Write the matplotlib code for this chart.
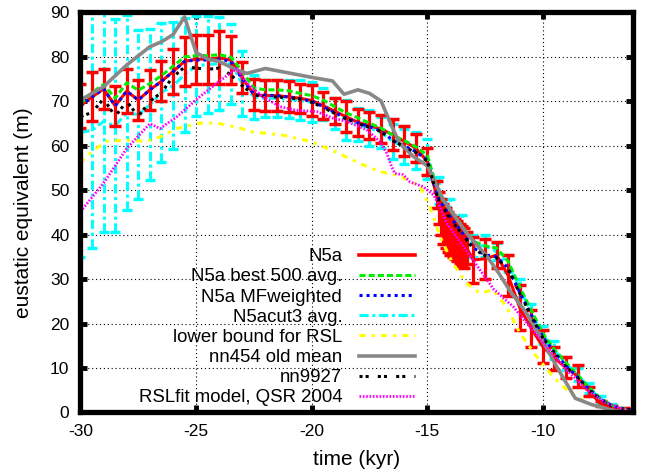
import matplotlib
matplotlib.use('Agg')
import matplotlib.pyplot as plt
from matplotlib.lines import Line2D

plt.rcParams['font.family'] = ['Liberation Sans', 'DejaVu Sans']
plt.rcParams['axes.unicode_minus'] = False

# ---------------- data ----------------
t_grid = [-30, -29.5, -29, -28.5, -28, -27.5, -27, -26.5, -26, -25.5, -25, -24.5, -24,
          -23.5, -23, -22.5, -22, -21.5, -21, -20.5, -20, -19.5, -19, -18.5, -18, -17.5,
          -17, -16.5, -16, -15.5, -15, -14.5, -14, -13.5, -13, -12.5, -12, -11.5, -11,
          -10.5, -10, -9.5, -9, -8.5, -8, -7.5, -7, -6.5, -6]

# N5a (red, with error bars)
t_n5a = [-30, -29.5, -29, -28.5, -28, -27.5, -27, -26.5, -26, -25.5, -25, -24.5, -24,
         -23.5, -23, -22.5, -22, -21.5, -21, -20.5, -20, -19.5, -19, -18.5, -18, -17.5,
         -17, -16.5, -16, -15.5, -15,
         -14.6, -14.5, -14.4, -14.3, -14.2, -14.1, -14.0, -13.9, -13.8, -13.7, -13.6,
         -13.5, -13.4, -13.3,
         -13, -12.5, -12, -11.5, -11, -10.5, -10, -9.5, -9, -8.5, -8, -7.5, -7, -6.5, -6]
n5a = [69, 71, 72.8, 69, 72.3, 70.3, 72.6, 74.5, 76.7, 79, 79.5, 79.5, 79.8,
       79.3, 75.3, 71.5, 71.3, 71.3, 71, 70.7, 70.2, 69, 67.8, 66.5, 65.3, 64.5,
       63.8, 62.5, 61, 59.5, 56.5,
       49, 46, 44, 42.5, 41.5, 40.5, 40, 39.5, 39, 38.5, 38,
       37.5, 37, 37,
       34.3, 34.6, 35.4, 30.8, 23.6, 18.9, 14.8, 12.2, 10.1, 8.2, 4.7, 2, 1, 0.6, 0.5]
n5a_err = [5, 5.5, 4.5, 4.5, 5, 4.5, 4.5, 4.5, 5, 5.5, 5.5, 5.5, 6,
           5.5, 3.5, 3.5, 3.5, 3.5, 3.5, 3.3, 3.4, 3, 3, 3.5, 3, 3,
           3.2, 3.5, 3.4, 3.2, 3,
           3, 3.5, 4, 4.5, 4.5, 4.5, 4.5, 4.5, 4.5, 4.5, 4.5,
           4.5, 4.5, 3.5,
           5.2, 4.5, 3, 4.6, 5, 4.2, 3.7, 2.6, 2.4, 2.4, 1.1, 0.6, 0.4, 0.3, 0.3]

# N5a best 500 avg. (green)
best500 = [69.5, 72, 73.8, 70.7, 74.2, 72.5, 74, 75.8, 77.9, 80, 80.3, 80.3, 80.5,
           80, 76.7, 73, 72.6, 72.6, 72.4, 71.8, 71.3, 70.3, 68.8, 67.4, 66.3, 65.1,
           64, 62.4, 61.2, 59.8, 57.9, 49, 45.5, 42, 38.5, 37.5, 37, 34, 28.2,
           23, 17.8, 14.2, 11.2, 8.5, 5.6, 3.2, 1.6, 0.8, 0.5]

# N5a MFweighted (blue)
mfweighted = [69, 71, 72.8, 69, 72.3, 70.3, 72.6, 74.5, 76.7, 79, 79.3, 79.3, 79.5,
              79, 75, 71.6, 71.4, 71.3, 71, 70.6, 70, 68.8, 67.5, 66.2, 65.2, 64.3,
              63.3, 61.3, 60, 58.7, 56.8, 48, 44, 40.5, 37, 35.5, 35, 32.5, 27,
              22, 17, 13.5, 10.5, 8, 5.2, 3, 1.5, 0.8, 0.5]

# N5acut3 avg. (cyan, with error bars)
cut3 = [63, 63.5, 65.5, 64.5, 67.5, 67, 69.2, 72, 73.5, 76, 78, 78.3, 78.5,
        78.5, 74, 71, 70.7, 70.7, 70.5, 70.2, 69.8, 69.4, 67.2, 65.8, 64.8, 64,
        63, 61, 59.8, 59, 57, 50, 45.5, 42, 37.5, 37.5, 36.2, 33.5, 28,
        22.5, 17.5, 14, 11, 8.5, 5.5, 3, 1.5, 0.8, 0.5]
cut3_err = [28, 26.5, 25, 24, 22, 19, 17, 15.7, 14.3, 12.8, 11.3, 10.9, 10.5,
            9, 7.3, 5, 4.2, 4.2, 4.2, 4.5, 4.5, 3.6, 3.5, 4.6, 3.8, 4,
            3.5, 4, 4, 4.2, 4.5, 3, 2.5, 2.5, 2.5, 2.5, 2, 2, 2,
            2, 2, 2, 1.5, 1.5, 1.2, 0.8, 0.5, 0.3, 0.2]

# lower bound for RSL (yellow)
t_lower = [-30, -29.9, -29.45, -28.87, -28, -27.14, -26.56, -25.84, -24.83, -24.1, -23.1,
           -22.67, -21.24, -20.07, -19.07, -17.9, -17.05, -16.18, -15.3, -14.88, -14.45,
           -13.9, -13.3, -12.72, -12.16, -11.57, -11.0, -10.27, -9.56, -8.97, -8.1,
           -6.97, -6]
lower = [56, 56.8, 59, 61, 61.3, 61, 62, 63.9, 65.1, 65.1, 64,
         63.2, 62.4, 61, 58.9, 56, 54.2, 53.2, 50.8, 46.3, 39.6,
         33.6, 29.1, 26.8, 27.6, 23.8, 17.9, 12.6, 8.1, 5.1, 2.1,
         0.5, 0.3]

# nn454 old mean (gray)
t_nn454 = [-30, -29, -28, -27, -26.5, -26, -25.5, -25, -24.5, -24, -23.3, -22.8, -22,
           -21.4, -20, -19.1, -18.6, -18, -17.5, -17, -16.5, -16.2, -15.6, -15, -14.3,
           -13.3, -12.4, -11.9, -11.4, -10.7, -10.1, -9.4, -8.6, -7.9, -7, -6.3]
nn454 = [70.3, 73.3, 78.2, 82.3, 83.4, 85, 89, 81, 79.5, 79, 77.2, 76.3, 77.4,
         76.8, 75.4, 74.6, 71.6, 72.6, 71.8, 70.1, 64, 60.6, 57.6, 55.5, 47.8,
         40.4, 35, 31.3, 27.2, 22.3, 17, 10.3, 3.2, 1.8, 0.5, 0]

# nn9927 (black)
nn9927 = [66.6, 67.5, 70.6, 66.6, 70, 66.6, 70, 72, 75.5, 77.7, 77.5, 77.2, 77.5,
          76, 73.5, 71.5, 71, 71, 70.8, 70.5, 69.8, 68.6, 67.3, 66, 65, 64.2,
          63.2, 61.2, 59.8, 58.5, 56.5, 47.5, 43.5, 40.2, 36.8, 35.3, 34.8, 32.2, 26.8,
          21.7, 16.8, 13.3, 10.3, 7.8, 5, 2.9, 1.4, 0.7, 0.5]

# RSLfit model, QSR 2004 (magenta)
t_rsl = [-30, -29, -28, -27, -26.56, -25.84, -24.9, -24, -23.24, -22.8, -22.1, -21.37,
         -20.65, -19.78, -19.07, -18.5, -17.62, -17.05, -16.76, -16.54, -16.4, -16.04,
         -15.75, -15.17, -14.74, -14.45, -14.16, -13.5, -12.72, -12.14, -11.28, -10.56,
         -9.84, -8.97, -8.1, -7.24, -6.4, -6]
rsl = [45.2, 51.6, 59.4, 65, 63.9, 66.5, 70.8, 74.5, 77.4, 74.1, 71, 68.8,
       68, 67.7, 66.2, 65.5, 63.6, 61, 58.4, 55.3, 53.8, 53.5,
       51.9, 50.8, 49, 46.3, 42.6, 37.8, 32.1, 27.8, 23.8, 19.3,
       14.8, 9.6, 5.1, 2.1, 0.5, 0.3]

labels = ['N5a', 'N5a best 500 avg.', 'N5a MFweighted', 'N5acut3 avg.',
          'lower bound for RSL', 'nn454 old mean', 'nn9927', 'RSLfit model, QSR 2004']
x_ticks = [-30, -25, -20, -15, -10]
y_ticks = [0, 10, 20, 30, 40, 50, 60, 70, 80, 90]

# ---------------- styles ----------------
RED, GREEN, BLUE, CYAN = '#ff0000', '#00ee00', '#0000ff', '#00ffff'
YELLOW, GRAY, BLACK, MAGENTA = '#ffff00', '#888888', '#000000', '#ff00ff'
LW = 2.2
ls_green = (0, (2, 1))
ls_blue = (0, (1, 1.3))
ls_cyan = (0, (3, 1.2, 1, 1.2))
ls_yellow = (0, (2, 2, 1, 2))
ls_black = (0, (1, 1, 1, 3))
ls_mag = (0, (0.6, 0.6))

fig = plt.figure(figsize=(6.45, 4.75), dpi=100)
ax = fig.add_axes([0.1248, 0.1316, 0.8566, 0.8421])

eb_c = ax.errorbar(t_grid, cut3, yerr=cut3_err, color=CYAN, lw=LW, ls=ls_cyan,
                   elinewidth=2.2, capsize=3.5, capthick=2.4, zorder=2)
for lc in eb_c[2]:
    lc.set_linestyle(ls_cyan)
ax.errorbar(t_n5a, n5a, yerr=n5a_err, color=RED, lw=LW, ls='-',
            elinewidth=2.3, capsize=4, capthick=2.5, zorder=3)
ax.plot(t_grid, best500, color=GREEN, lw=LW, ls=ls_green, zorder=4)
ax.plot(t_grid, mfweighted, color=BLUE, lw=LW, ls=ls_blue, zorder=5)
ax.plot(t_lower, lower, color=YELLOW, lw=LW, ls=ls_yellow, zorder=4)
ax.plot(t_nn454, nn454, color=GRAY, lw=2.6, ls='-', zorder=6)
ax.plot(t_grid, nn9927, color=BLACK, lw=LW, ls=ls_black, zorder=7)
ax.plot(t_rsl, rsl, color=MAGENTA, lw=2.0, ls=ls_mag, zorder=8)

ax.set_xlim(-30, -6.1)
ax.set_ylim(0, 90)
ax.set_xticks(x_ticks)
ax.set_yticks(y_ticks)
ax.grid(True, color='black', lw=0.8, ls=(0, (1, 2.5)))
ax.set_axisbelow(True)
ax.tick_params(direction='in', length=5, width=3.5, top=True, right=True,
               labelsize=12.5, pad=8)
for s in ax.spines.values():
    s.set_linewidth(3.8)
    s.set_zorder(10)

ax.set_xlabel('time (kyr)', fontsize=15, labelpad=8)
ax.set_ylabel('eustatic equivalent (m)', fontsize=15, labelpad=12)

handles = [
    Line2D([], [], color=RED, lw=2.6, ls='-'),
    Line2D([], [], color=GREEN, lw=LW, ls=ls_green),
    Line2D([], [], color=BLUE, lw=LW, ls=ls_blue),
    Line2D([], [], color=CYAN, lw=LW, ls=ls_cyan),
    Line2D([], [], color=YELLOW, lw=LW, ls=ls_yellow),
    Line2D([], [], color=GRAY, lw=2.6, ls='-'),
    Line2D([], [], color=BLACK, lw=LW, ls=ls_black),
    Line2D([], [], color=MAGENTA, lw=2.0, ls=ls_mag),
]
leg = ax.legend(handles, labels, loc='upper right', bbox_to_anchor=(0.605, 0.411),
                frameon=False, markerfirst=False, fontsize=13.4, handlelength=3.0,
                handletextpad=0.9, labelspacing=0.17, borderpad=0, borderaxespad=0)
leg.set_zorder(20)

fig.savefig('out.png', dpi=100)
